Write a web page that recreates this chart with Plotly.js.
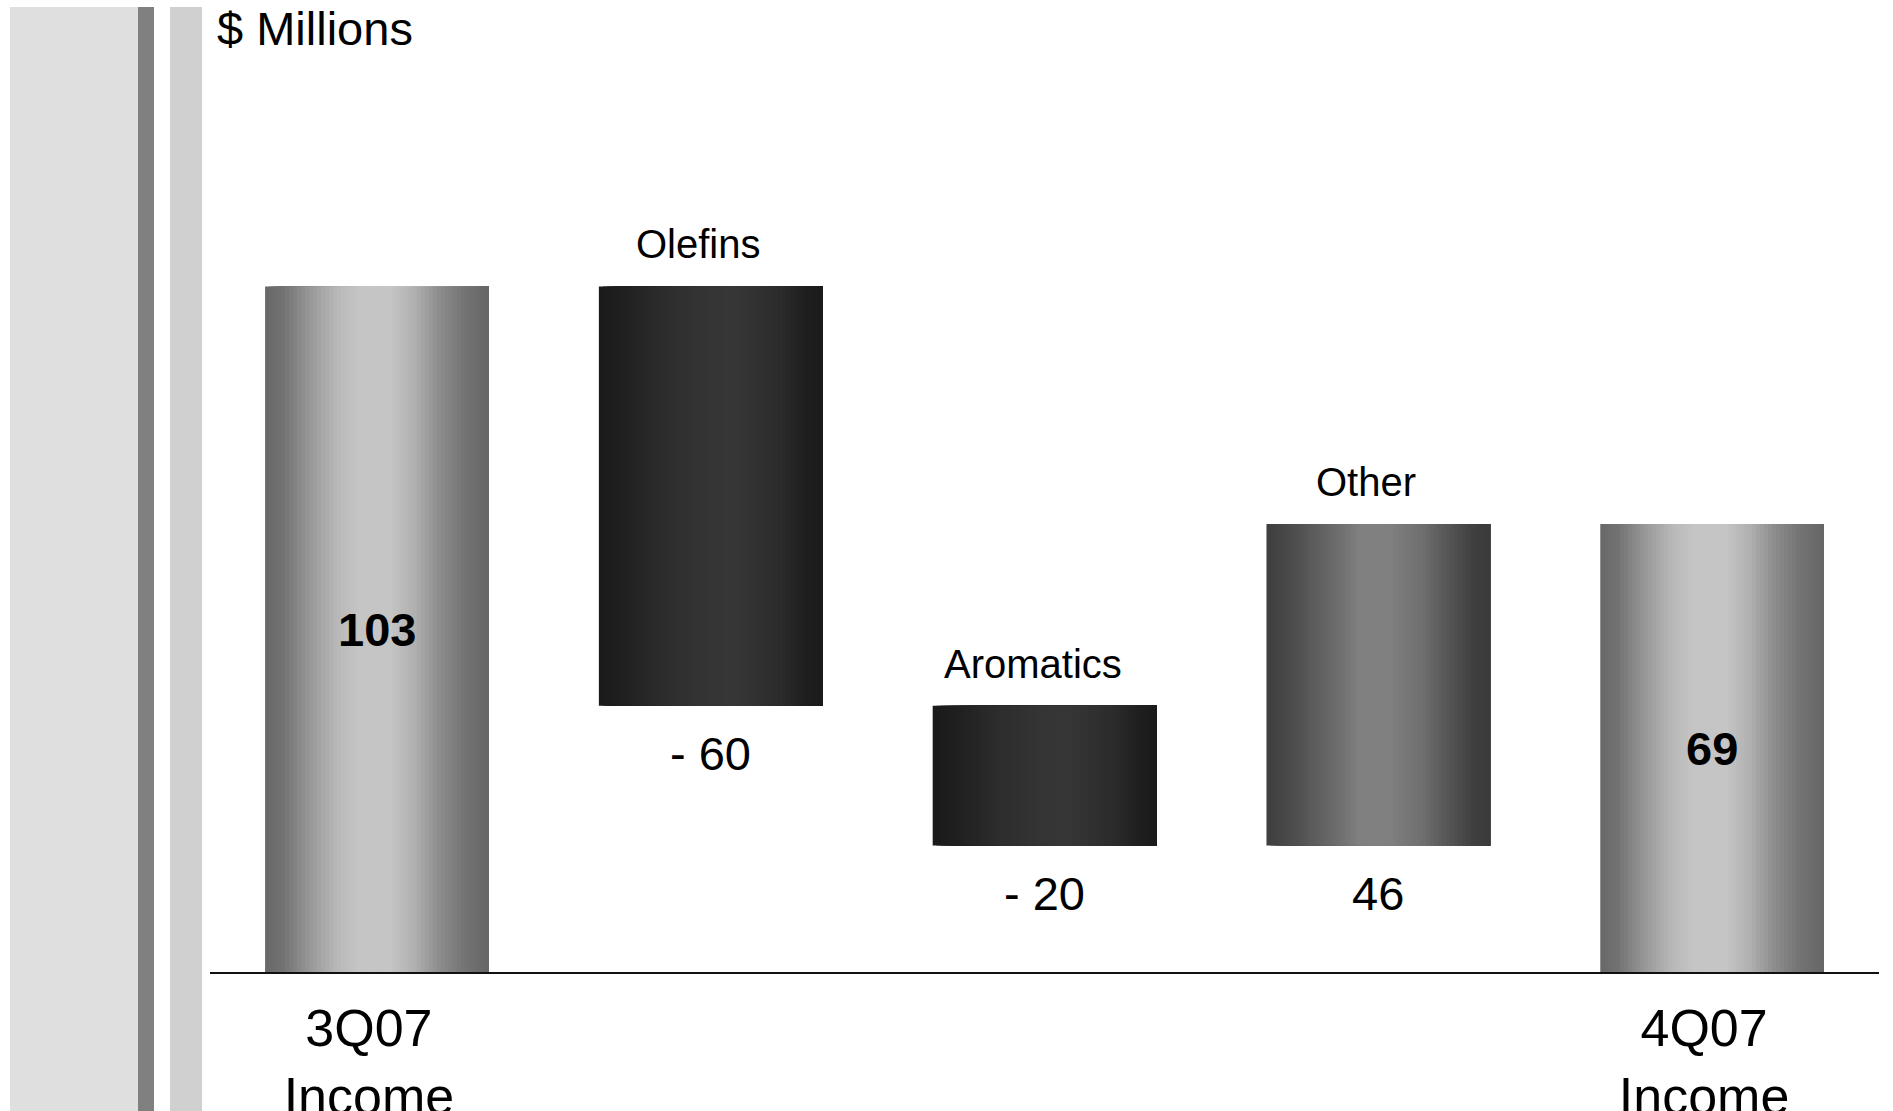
<!DOCTYPE html>
<html>
<head>
<meta charset="utf-8">
<script src="https://cdn.plot.ly/plotly-3.0.1.min.js"></script>
<style>
  html, body { margin: 0; padding: 0; background: #ffffff; }
  #chart { width: 1893px; height: 1111px; }
</style>
</head>
<body>
<div id="chart"></div>
<script>
// Income bridge, $ millions
const categories = ['3Q07 Income', 'Olefins', 'Aromatics', 'Other', '4Q07 Income'];
const measures   = ['total', 'relative', 'relative', 'relative', 'total'];
const values     = [103, -60, -20, 46, 69];
const tickCategories = ['3Q07 Income', '4Q07 Income'];
const tickLabels     = ['3Q07<br>Income', '4Q07<br>Income'];

// ---- waterfall geometry (bases and ends from the running total) ----
const bases = [], ends = [];
let running = 0;
measures.forEach((m, i) => {
  if (m === 'total') { bases.push(0); ends.push(values[i]); running = values[i]; }
  else { bases.push(running); ends.push(running + values[i]); running += values[i]; }
});
const heights = ends.map((e, i) => e - bases[i]);

// ---- cylinder-style shading: grey ramps across each bar ----
const ramps = {
  total: [[0,104],[0.08,114],[0.2,152],[0.32,184],[0.42,197],[0.56,197],[0.67,176],[0.78,140],[0.9,114],[1,102]],
  down:  [[0,26],[0.1,31],[0.3,45],[0.5,53],[0.62,54],[0.8,44],[0.92,31],[1,27]],
  up:    [[0,62],[0.1,74],[0.25,98],[0.42,128],[0.55,128],[0.7,110],[0.82,84],[0.92,64],[1,58]]
};
function shade(stops, t) {
  for (let k = 1; k < stops.length; k++) {
    if (t <= stops[k][0]) {
      const a = stops[k - 1], b = stops[k];
      const g = Math.round(a[1] + (b[1] - a[1]) * (t - a[0]) / (b[0] - a[0]));
      return 'rgb(' + g + ',' + g + ',' + g + ')';
    }
  }
  const g = stops[stops.length - 1][1];
  return 'rgb(' + g + ',' + g + ',' + g + ')';
}
const rampFor = values.map((v, i) => measures[i] === 'total' ? ramps.total : (v < 0 ? ramps.down : ramps.up));

const BAR_W = 0.67;
const SLICES = 56;
const traces = [];
for (let j = 0; j < SLICES; j++) {
  const t = (j + 0.5) / SLICES;
  traces.push({
    type: 'bar',
    x: categories,
    y: heights,
    base: bases,
    offset: -BAR_W / 2 + j * BAR_W / SLICES,
    width: BAR_W * (1 - j / SLICES),
    marker: { color: rampFor.map(r => shade(r, t)), line: { width: 0 } },
    hoverinfo: 'skip',
    showlegend: false
  });
}

// ---- layout ----
const W = 1893, H = 1111;
const M = { l: 210, r: 14, t: 60, b: 139 };
const Y_RANGE = [4.9, 135.4];
const plotW = W - M.l - M.r, plotH = H - M.t - M.b;
const px2paperX = px => (px - M.l) / plotW;
const px2paperY = py => (H - M.b - py) / plotH;

const FONT = 'Liberation Sans, Arial, Helvetica, sans-serif';

const annotations = [];
categories.forEach((c, i) => {
  if (measures[i] === 'total') {
    annotations.push({
      x: c, y: (Y_RANGE[0] + ends[i]) / 2, xref: 'x', yref: 'y',
      text: String(values[i]), showarrow: false, yanchor: 'middle',
      font: { family: FONT, size: 47, color: '#000', weight: 'bold' }
    });
  } else {
    const top = Math.max(bases[i], ends[i]);
    const bottom = Math.min(bases[i], ends[i]);
    annotations.push({
      x: c, y: top, xref: 'x', yref: 'y', text: c, showarrow: false,
      yanchor: 'middle', yshift: 42, xshift: -12,
      font: { family: FONT, size: 40, color: '#000' }
    });
    annotations.push({
      x: c, y: bottom, xref: 'x', yref: 'y',
      text: values[i] < 0 ? '- ' + Math.abs(values[i]) : String(values[i]),
      showarrow: false, yanchor: 'middle', yshift: -48,
      font: { family: FONT, size: 47, color: '#000' }
    });
  }
});

// decorative side bands
const bands = [
  { x0: 10,  x1: 138, color: '#dfdfdf' },
  { x0: 138, x1: 154, color: '#808080' },
  { x0: 170, x1: 202, color: '#d0d0d0' }
];
const shapes = bands.map(b => ({
  type: 'rect', xref: 'paper', yref: 'paper', layer: 'below',
  x0: px2paperX(b.x0), x1: px2paperX(b.x1),
  y0: px2paperY(H), y1: px2paperY(7),
  fillcolor: b.color, line: { width: 0 }
}));

const layout = {
  width: W, height: H,
  margin: M,
  paper_bgcolor: '#ffffff', plot_bgcolor: '#ffffff',
  barmode: 'overlay',
  font: { family: FONT, color: '#000' },
  title: {
    text: '$ Millions',
    xref: 'container', yref: 'container',
    x: 217 / W, xanchor: 'left',
    y: 1 - 29 / H, yanchor: 'middle',
    font: { family: FONT, size: 47, color: '#000' }
  },
  xaxis: {
    type: 'category', categoryorder: 'array', categoryarray: categories,
    range: [-0.5, categories.length - 0.5],
    showline: true, linecolor: '#111', linewidth: 2,
    ticks: '', showgrid: false, zeroline: false,
    tickvals: tickCategories, ticktext: tickLabels,
    tickfont: { family: FONT, size: 52, color: '#000' },
    ticklabelstandoff: 10, ticklabelshift: -8,
    fixedrange: true
  },
  yaxis: {
    range: Y_RANGE, visible: false, showgrid: false, zeroline: false, fixedrange: true
  },
  annotations: annotations,
  shapes: shapes
};

Plotly.newPlot('chart', traces, layout, { staticPlot: true, displayModeBar: false });
</script>
</body>
</html>
